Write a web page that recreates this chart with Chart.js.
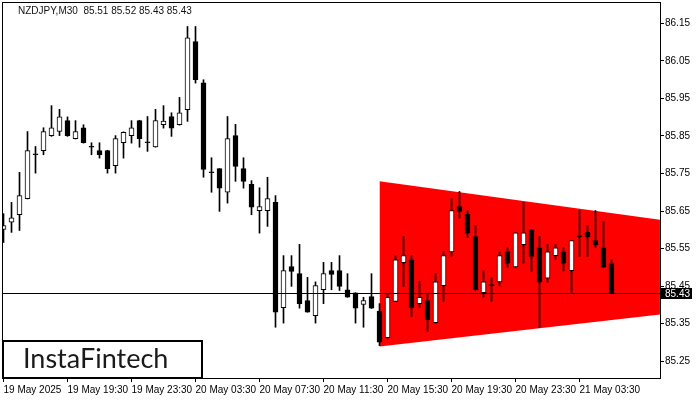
<!DOCTYPE html>
<html>
<head>
<meta charset="utf-8">
<script src="https://cdn.jsdelivr.net/npm/chart.js@4.4.1/dist/chart.umd.min.js"></script>
<style>
    html, body { margin: 0; padding: 0; background: #ffffff; }
    #wrap { width: 700px; height: 400px; }
</style>
</head>
<body>
<div id="wrap"><canvas id="chart" width="700" height="400"></canvas></div>
<script>
// ===== DATA =====
// NZDJPY M30, one value per bar (bar 0 = 19 May 15:30)
const opens = [
    85.601, 85.620, 85.640, 85.683, 85.800, 85.811, 85.851, 85.862, 85.891, 85.843,
    85.872, 85.820, 85.811, 85.811, 85.771, 85.832, 85.851, 85.891, 85.832, 85.821,
    85.880, 85.902, 85.880, 85.920, 86.102, 85.992, 85.752, 85.763, 85.700, 85.851,
    85.763, 85.721, 85.651, 85.651, 85.673, 85.392, 85.502, 85.483, 85.411, 85.371,
    85.440, 85.491, 85.491, 85.440, 85.432, 85.401, 85.422, 85.383, 85.312, 85.409,
    85.512, 85.520, 85.403, 85.411, 85.352, 85.451, 85.541, 85.662, 85.641, 85.582,
    85.432, 85.451, 85.461, 85.542, 85.501, 85.560, 85.600, 85.552, 85.471, 85.531,
    85.541, 85.491, 85.581, 85.593, 85.571, 85.552, 85.510
];
const highs = [
    85.643, 85.673, 85.753, 85.862, 85.822, 85.872, 85.931, 85.921, 85.901, 85.891,
    85.880, 85.832, 85.832, 85.812, 85.851, 85.861, 85.891, 85.892, 85.902, 85.921,
    85.931, 85.912, 85.953, 86.142, 86.142, 86.000, 85.792, 85.763, 85.902, 85.881,
    85.792, 85.731, 85.712, 85.740, 85.691, 85.531, 85.531, 85.561, 85.473, 85.461,
    85.513, 85.513, 85.531, 85.483, 85.432, 85.420, 85.483, 85.403, 85.429, 85.531,
    85.582, 85.531, 85.462, 85.431, 85.483, 85.542, 85.683, 85.702, 85.651, 85.611,
    85.491, 85.472, 85.541, 85.552, 85.593, 85.673, 85.601, 85.582, 85.561, 85.561,
    85.552, 85.572, 85.651, 85.611, 85.651, 85.622, 85.520
];
const lows = [
    85.566, 85.593, 85.598, 85.682, 85.751, 85.800, 85.849, 85.851, 85.849, 85.842,
    85.831, 85.800, 85.791, 85.751, 85.751, 85.791, 85.831, 85.820, 85.809, 85.820,
    85.871, 85.849, 85.879, 85.889, 85.991, 85.740, 85.700, 85.649, 85.671, 85.729,
    85.711, 85.640, 85.591, 85.609, 85.340, 85.351, 85.449, 85.391, 85.380, 85.351,
    85.403, 85.440, 85.438, 85.420, 85.351, 85.340, 85.390, 85.291, 85.311, 85.409,
    85.449, 85.369, 85.392, 85.329, 85.351, 85.409, 85.529, 85.631, 85.580, 85.439,
    85.420, 85.409, 85.450, 85.500, 85.500, 85.511, 85.489, 85.340, 85.460, 85.520,
    85.490, 85.432, 85.529, 85.529, 85.552, 85.500, 85.430
];
const closes = [
    85.611, 85.632, 85.691, 85.811, 85.800, 85.862, 85.872, 85.901, 85.851, 85.862,
    85.832, 85.820, 85.800, 85.763, 85.843, 85.860, 85.872, 85.843, 85.832, 85.891,
    85.890, 85.871, 85.912, 86.112, 86.000, 85.761, 85.752, 85.711, 85.843, 85.769,
    85.729, 85.660, 85.662, 85.683, 85.380, 85.491, 85.489, 85.403, 85.380, 85.451,
    85.483, 85.481, 85.449, 85.420, 85.391, 85.411, 85.391, 85.300, 85.420, 85.520,
    85.531, 85.392, 85.420, 85.360, 85.461, 85.531, 85.651, 85.649, 85.591, 85.440,
    85.461, 85.451, 85.531, 85.511, 85.592, 85.592, 85.529, 85.460, 85.541, 85.552,
    85.511, 85.571, 85.581, 85.581, 85.560, 85.500, 85.430
];

// time axis labels, one every 8 bars
const timeTickBars = [0, 8, 16, 24, 32, 40, 48, 56, 64, 72];
const timeTickLabels = [
    '19 May 2025', '19 May 19:30', '19 May 23:30', '20 May 03:30', '20 May 07:30',
    '20 May 11:30', '20 May 15:30', '20 May 19:30', '20 May 23:30', '21 May 03:30'
];
const priceTicks = [85.25, 85.35, 85.45, 85.55, 85.65, 85.75, 85.85, 85.95, 86.05, 86.15];

// symmetrical triangle pattern (bar index, upper and lower edge)
const triangleBars = [47, 82.06];
const triangleUpper = [85.729, 85.627];
const triangleLower = [85.289, 85.374];

const lastPrice = 85.43;
const titleText = 'NZDJPY,M30  85.51 85.52 85.43 85.43';

// ===== VIEW =====
const xMin = -0.1875;
const xMax = 82.0625;
const yMax = 86.2073;
const yMin = 85.2047;

const upColor = '#ffffff';
const downColor = '#000000';
const triangleColor = '#ff0000';
const fontFamily = "'Liberation Sans', Arial, sans-serif";

const bodyData = opens.map((o, i) => ({ x: i, y: [o, closes[i]] }));
const wickData = lows.map((l, i) => ({ x: i, y: [l, highs[i]] }));
const bodyColors = opens.map((o, i) => (closes[i] > o ? upColor : downColor));

// frame, title, logo and last price tag
const overlayPlugin = {
    id: 'overlay',
    afterDraw(chart) {
        const { ctx, chartArea } = chart;
        const yScale = chart.scales.y;
        ctx.save();

        ctx.strokeStyle = '#000';
        ctx.lineWidth = 1;
        ctx.strokeRect(chartArea.left + 0.5, chartArea.top + 0.5,
            chartArea.right - chartArea.left, chartArea.bottom - chartArea.top);

        ctx.fillStyle = '#111';
        ctx.font = '10px ' + fontFamily;
        ctx.textBaseline = 'middle';
        ctx.textAlign = 'left';
        ctx.fillText(titleText, chartArea.left + 16, chartArea.top + 9);

        // logo box
        ctx.fillStyle = '#fff';
        ctx.fillRect(chartArea.left, chartArea.bottom - 38, 200, 38);
        ctx.lineWidth = 2;
        ctx.strokeRect(chartArea.left + 1, chartArea.bottom - 37, 199, 37);
        ctx.fillStyle = '#1a1a1a';
        ctx.font = "27px Lato, 'Open Sans', sans-serif";
        ctx.textBaseline = 'alphabetic';
        ctx.fillText('InstaFintech', chartArea.left + 21, chartArea.bottom - 10);

        // last price tag
        const py = Math.round(yScale.getPixelForValue(lastPrice));
        ctx.fillStyle = '#000';
        ctx.fillRect(chartArea.right + 1, py - 6, 31, 11);
        ctx.fillStyle = '#fff';
        ctx.font = '10px ' + fontFamily;
        ctx.textBaseline = 'middle';
        ctx.fillText(lastPrice.toFixed(2), chartArea.right + 5, py);

        ctx.restore();
    }
};

new Chart(document.getElementById('chart'), {
    data: {
        datasets: [
            {
                type: 'line',
                data: [{ x: xMin, y: lastPrice }, { x: xMax, y: lastPrice }],
                borderColor: '#000',
                borderWidth: 1,
                pointRadius: 0
            },
            {
                type: 'bar',
                data: bodyData,
                backgroundColor: bodyColors,
                borderColor: '#000',
                borderWidth: 1,
                borderSkipped: false,
                barThickness: 5,
                minBarLength: 1,
                grouped: false
            },
            {
                type: 'bar',
                data: wickData,
                backgroundColor: '#000',
                borderWidth: 0,
                barThickness: 1,
                grouped: false
            },
            {
                type: 'line',
                data: triangleBars.map((x, i) => ({ x: x, y: triangleUpper[i] })),
                borderWidth: 0,
                pointRadius: 0,
                backgroundColor: triangleColor,
                fill: '+1'
            },
            {
                type: 'line',
                data: triangleBars.map((x, i) => ({ x: x, y: triangleLower[i] })),
                borderWidth: 0,
                pointRadius: 0,
                fill: false
            }
        ]
    },
    options: {
        responsive: false,
        animation: false,
        layout: { padding: { left: 2, top: 2, right: 0, bottom: 0 } },
        plugins: {
            legend: { display: false },
            tooltip: { enabled: false },
            title: { display: false }
        },
        scales: {
            x: {
                type: 'linear',
                position: 'bottom',
                min: xMin,
                max: xMax,
                offset: false,
                afterBuildTicks: (scale) => {
                    scale.ticks = timeTickBars.map(v => ({ value: v }));
                },
                afterFit: (scale) => {
                    scale.height = 22;
                    scale.paddingLeft = 0;
                    scale.paddingRight = 0;
                },
                grid: { display: true, offset: false, drawOnChartArea: false, drawTicks: true, tickLength: 4, color: '#000' },
                border: { display: false },
                ticks: {
                    autoSkip: false,
                    maxRotation: 0,
                    align: 'start',
                    padding: 2,
                    color: '#000',
                    font: { family: fontFamily, size: 10 },
                    callback: (value) => timeTickLabels[timeTickBars.indexOf(value)]
                }
            },
            y: {
                type: 'linear',
                position: 'right',
                min: yMin,
                max: yMax,
                afterBuildTicks: (scale) => {
                    scale.ticks = priceTicks.map(v => ({ value: v }));
                },
                afterFit: (scale) => {
                    scale.width = 40;
                    scale.paddingTop = 0;
                    scale.paddingBottom = 0;
                },
                grid: { display: true, drawOnChartArea: false, drawTicks: true, tickLength: 4, color: '#000' },
                border: { display: false },
                ticks: {
                    padding: 1,
                    color: '#000',
                    font: { family: fontFamily, size: 10 },
                    callback: (value) => value.toFixed(2)
                }
            }
        }
    },
    plugins: [overlayPlugin]
});
</script>
</body>
</html>
